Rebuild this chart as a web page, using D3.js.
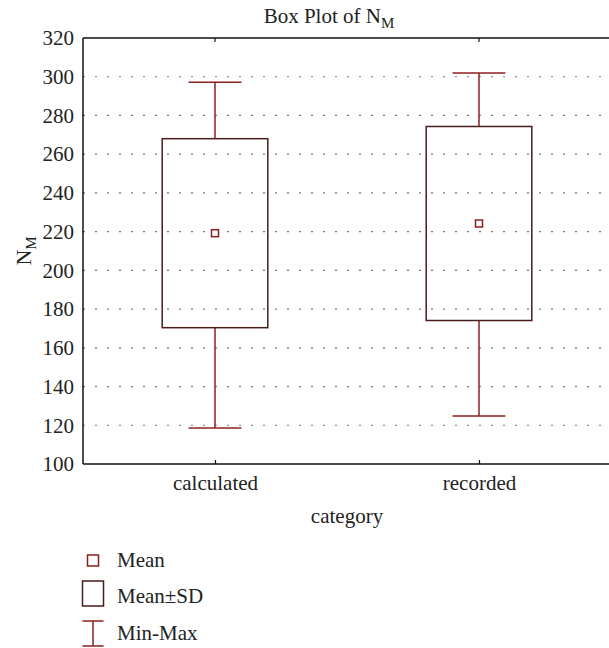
<!DOCTYPE html>
<html>
<head>
<meta charset="utf-8">
<script src="https://cdn.jsdelivr.net/npm/d3@7"></script>
<style>
  html, body { margin: 0; padding: 0; background: #fff; }
  svg { display: block; }
</style>
</head>
<body>
<svg id="chart" width="609" height="648"></svg>
<script>
// Summary statistics per category
const categories = ["calculated", "recorded"];
const means = [219.2, 224.2];
const sds = [48.8, 50.1];
const mins = [118.6, 124.8];
const maxs = [297.1, 301.9];
const yTicks = [100, 120, 140, 160, 180, 200, 220, 240, 260, 280, 300, 320];
const gridValues = [120, 140, 160, 180, 200, 220, 240, 260, 280, 300];

// pick the first installed serif face
function pickSerif() {
  const candidates = ["Liberation Serif", "Times New Roman", "Tinos", "Noto Serif",
                      "DejaVu Serif", "FreeSerif", "Nimbus Roman", "Times"];
  const ctx = document.createElement("canvas").getContext("2d");
  const sample = "Box Plot calculated recorded Mean±SD 0123456789";
  const widthWith = f => { ctx.font = `20px ${f}`; return ctx.measureText(sample).width; };
  const baseMono = widthWith("monospace"), baseSans = widthWith("sans-serif");
  for (const c of candidates) {
    if (widthWith(`"${c}", monospace`) !== baseMono && widthWith(`"${c}", sans-serif`) !== baseSans) return `"${c}"`;
  }
  return "serif";
}
const FONT = pickSerif();

const W = 609, H = 648;
const plot = { left: 83, right: 611, top: 38, bottom: 464 };
const whiskerColor = "#8c1f1f";
const boxColor = "#4a1c1c";
const textColor = "#222";
const fontSize = 21;

const svg = d3.select("#chart").style("font-family", FONT);

const x = d3.scalePoint().domain(categories).range([plot.left, plot.right]).padding(0.5);
const y = d3.scaleLinear().domain([100, 320]).range([plot.bottom, plot.top]);
const step = x.step();

// dotted grid
svg.append("g").selectAll("line").data(gridValues).join("line")
  .attr("x1", plot.left).attr("x2", W)
  .attr("y1", d => y(d)).attr("y2", d => y(d))
  .attr("stroke", "#777").attr("stroke-width", 1.2)
  .attr("stroke-dasharray", "2,10").attr("stroke-dashoffset", -12);

// y axis
const yAxis = svg.append("g").attr("transform", `translate(${plot.left},0)`)
  .call(d3.axisLeft(y).tickValues(yTicks).tickSize(0).tickPadding(9).tickFormat(d3.format("d")));
yAxis.attr("font-family", null);
yAxis.select(".domain").remove();
yAxis.selectAll("text").attr("font-size", fontSize).attr("fill", textColor);

// x axis
const xAxis = svg.append("g").attr("transform", `translate(0,${plot.bottom})`)
  .call(d3.axisBottom(x).tickSizeInner(-4).tickSizeOuter(0).tickPadding(11));
xAxis.attr("font-family", null);
xAxis.select(".domain").remove();
xAxis.selectAll("line").attr("stroke", "#111").attr("stroke-width", 1.2);
xAxis.selectAll("text").attr("font-size", fontSize).attr("fill", textColor);

// top ticks
svg.append("g").selectAll("line").data(categories).join("line")
  .attr("x1", d => x(d)).attr("x2", d => x(d))
  .attr("y1", plot.top).attr("y2", plot.top + 4)
  .attr("stroke", "#111").attr("stroke-width", 1.2);

// frame lines
svg.append("line").attr("x1", plot.left).attr("x2", W).attr("y1", plot.top).attr("y2", plot.top)
  .attr("stroke", "#111").attr("stroke-width", 1.5);
svg.append("line").attr("x1", plot.left).attr("x2", W).attr("y1", plot.bottom).attr("y2", plot.bottom)
  .attr("stroke", "#111").attr("stroke-width", 1.5);
svg.append("line").attr("x1", plot.left).attr("x2", plot.left).attr("y1", plot.top).attr("y2", plot.bottom)
  .attr("stroke", "#111").attr("stroke-width", 1.5);

// boxes: mean ± SD, whiskers: min-max
const rows = categories.map((c, i) => ({ c, mean: means[i], sd: sds[i], min: mins[i], max: maxs[i] }));
const boxW = step * 0.4, capW = step * 0.2;
const g = svg.append("g");
rows.forEach(r => {
  const cx = x(r.c);
  const hi = r.mean + r.sd, lo = r.mean - r.sd;
  g.append("line").attr("x1", cx).attr("x2", cx).attr("y1", y(r.max)).attr("y2", y(hi))
    .attr("stroke", whiskerColor).attr("stroke-width", 1.5);
  g.append("line").attr("x1", cx).attr("x2", cx).attr("y1", y(lo)).attr("y2", y(r.min))
    .attr("stroke", whiskerColor).attr("stroke-width", 1.5);
  g.append("line").attr("x1", cx - capW / 2).attr("x2", cx + capW / 2).attr("y1", y(r.max)).attr("y2", y(r.max))
    .attr("stroke", whiskerColor).attr("stroke-width", 1.5);
  g.append("line").attr("x1", cx - capW / 2).attr("x2", cx + capW / 2).attr("y1", y(r.min)).attr("y2", y(r.min))
    .attr("stroke", whiskerColor).attr("stroke-width", 1.5);
  g.append("rect").attr("x", cx - boxW / 2).attr("y", y(hi))
    .attr("width", boxW).attr("height", y(lo) - y(hi))
    .attr("fill", "none").attr("stroke", boxColor).attr("stroke-width", 1.5);
  g.append("rect").attr("x", cx - 3.5).attr("y", y(r.mean) - 3.5)
    .attr("width", 7).attr("height", 7)
    .attr("fill", "#fff").attr("stroke", whiskerColor).attr("stroke-width", 1.5);
});

// title
const title = svg.append("text").attr("x", 329).attr("y", 23).attr("text-anchor", "middle")
  .attr("font-size", fontSize).attr("fill", textColor);
title.append("tspan").text("Box Plot of N");
title.append("tspan").attr("font-size", 15).attr("dy", 5).text("M");

// y axis title
const yt = svg.append("text").attr("transform", `translate(31,${(plot.top + plot.bottom) / 2}) rotate(-90)`)
  .attr("text-anchor", "middle").attr("font-size", 22).attr("fill", textColor);
yt.append("tspan").text("N");
yt.append("tspan").attr("font-size", 15).attr("dy", 5).text("M");

// x axis title
svg.append("text").attr("x", 347).attr("y", 523).attr("text-anchor", "middle")
  .attr("font-size", fontSize).attr("fill", textColor).text("category");

// legend
const lg = svg.append("g");
const lx = 93;
lg.append("rect").attr("x", lx - 5.5).attr("y", 555).attr("width", 11).attr("height", 11)
  .attr("fill", "#fff").attr("stroke", whiskerColor).attr("stroke-width", 1.5);
lg.append("rect").attr("x", lx - 10.5).attr("y", 581).attr("width", 21).attr("height", 25)
  .attr("fill", "#fff").attr("stroke", boxColor).attr("stroke-width", 1.5);
lg.append("line").attr("x1", lx - 10.5).attr("x2", lx + 10.5).attr("y1", 621).attr("y2", 621)
  .attr("stroke", whiskerColor).attr("stroke-width", 1.5);
lg.append("line").attr("x1", lx - 10.5).attr("x2", lx + 10.5).attr("y1", 646).attr("y2", 646)
  .attr("stroke", whiskerColor).attr("stroke-width", 1.5);
lg.append("line").attr("x1", lx).attr("x2", lx).attr("y1", 621).attr("y2", 646)
  .attr("stroke", whiskerColor).attr("stroke-width", 1.5);
const legendLabels = ["Mean", "Mean±SD", "Min-Max"];
const legendBaselines = [567, 603, 640];
lg.selectAll("text.leg").data(legendLabels).join("text").attr("class", "leg")
  .attr("x", 117).attr("y", (d, i) => legendBaselines[i])
  .attr("font-size", fontSize).attr("fill", textColor).text(d => d);
</script>
</body>
</html>
